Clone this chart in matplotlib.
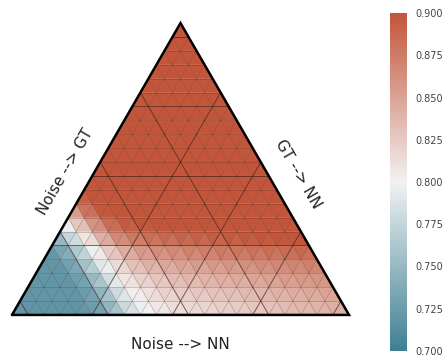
import numpy as np
import matplotlib
matplotlib.use("Agg")
import matplotlib.pyplot as plt
import seaborn as sns
from matplotlib.collections import PolyCollection

# ternary grid, scale 21; row h = GT index (0 at bottom), values for NN index n = 0..21-h
scale = 21
row_00 = [0.72, 0.72, 0.72, 0.72, 0.72, 0.725, 0.735, 0.77, 0.795, 0.80, 0.808,
          0.812, 0.815, 0.818, 0.82, 0.823, 0.826, 0.83, 0.833, 0.836, 0.84, 0.842]
row_01 = [0.72, 0.72, 0.72, 0.72, 0.72, 0.735, 0.77, 0.795, 0.805, 0.813, 0.818,
          0.82, 0.823, 0.826, 0.829, 0.832, 0.835, 0.838, 0.84, 0.843, 0.845]
row_02 = [0.72, 0.72, 0.72, 0.72, 0.735, 0.77, 0.80, 0.81, 0.82, 0.826,
          0.829, 0.832, 0.835, 0.838, 0.841, 0.844, 0.847, 0.85, 0.852, 0.855]
row_03 = [0.72, 0.72, 0.72, 0.74, 0.775, 0.805, 0.82, 0.83, 0.836, 0.84,
          0.843, 0.846, 0.849, 0.852, 0.855, 0.858, 0.86, 0.862, 0.865]
row_04 = [0.72, 0.72, 0.745, 0.785, 0.81, 0.83, 0.842, 0.85, 0.855, 0.858,
          0.861, 0.864, 0.867, 0.87, 0.872, 0.874, 0.876, 0.878]
row_05 = [0.725, 0.755, 0.79, 0.82, 0.845, 0.86, 0.868, 0.872, 0.876, 0.88,
          0.883, 0.886, 0.888, 0.89, 0.892, 0.894, 0.895]
row_06 = [0.77, 0.80, 0.835, 0.87, 0.885, 0.89, 0.895, 0.898, 0.90, 0.90,
          0.902, 0.904, 0.905, 0.906, 0.908, 0.91]
row_07 = [0.82, 0.86, 0.885, 0.90, 0.905, 0.905, 0.91, 0.91, 0.91, 0.91,
          0.912, 0.912, 0.915, 0.915, 0.915]
row_08 = [0.88, 0.90, 0.91, 0.91, 0.915, 0.915, 0.915, 0.92, 0.92, 0.92,
          0.92, 0.92, 0.92, 0.92]
row_09 = [0.90, 0.91, 0.92, 0.92, 0.92, 0.92, 0.92, 0.92, 0.925, 0.925,
          0.925, 0.925, 0.925]
row_10 = [0.91, 0.92, 0.92, 0.925, 0.925, 0.925, 0.925, 0.925, 0.93, 0.93,
          0.93, 0.93]
row_11 = [0.92, 0.925, 0.925, 0.93, 0.93, 0.93, 0.93, 0.93, 0.93, 0.93, 0.93]
row_12 = [0.925, 0.93, 0.93, 0.93, 0.93, 0.93, 0.93, 0.93, 0.93, 0.93]
row_13 = [0.93, 0.93, 0.93, 0.93, 0.93, 0.93, 0.93, 0.93, 0.93]
row_14 = [0.93, 0.93, 0.93, 0.93, 0.93, 0.93, 0.93, 0.93]
row_15 = [0.93, 0.93, 0.93, 0.93, 0.93, 0.93, 0.93]
row_16 = [0.93, 0.93, 0.93, 0.93, 0.93, 0.93]
row_17 = [0.93, 0.93, 0.93, 0.93, 0.93]
row_18 = [0.93, 0.93, 0.93, 0.93]
row_19 = [0.93, 0.93, 0.93]
row_20 = [0.93, 0.93]
row_21 = [0.93]
rows = [row_00, row_01, row_02, row_03, row_04, row_05, row_06, row_07,
        row_08, row_09, row_10, row_11, row_12, row_13, row_14, row_15,
        row_16, row_17, row_18, row_19, row_20, row_21]

cbar_ticks = [0.700, 0.725, 0.750, 0.775, 0.800, 0.825, 0.850, 0.875, 0.900]
bottom_label = "Noise --> NN"
left_label = "Noise --> GT"
right_label = "GT --> NN"

sns.set_style("white")
cmap = sns.diverging_palette(220, 20, as_cmap=True)

S3 = np.sqrt(3) / 2


def proj(n, h):
    return (n + h / 2.0, h * S3)


polys, vals = [], []
for h in range(scale):
    for n in range(scale - h):
        # upright triangle
        polys.append([proj(n, h), proj(n + 1, h), proj(n, h + 1)])
        vals.append((rows[h][n] + rows[h][n + 1] + rows[h + 1][n]) / 3)
        # upside-down triangle
        if n + h <= scale - 2:
            polys.append([proj(n + 1, h), proj(n, h + 1), proj(n + 1, h + 1)])
            vals.append((rows[h][n + 1] + rows[h + 1][n] + rows[h + 1][n + 1]) / 3)

fig = plt.figure(figsize=(4.46, 3.56), dpi=100)
ax = fig.add_axes([12 / 446, 40 / 356, 337 / 446, 294 / 356])
pc = PolyCollection(polys, array=np.array(vals), cmap=cmap, edgecolors="face",
                    linewidths=0.2)
pc.set_clim(0.7, 0.9)
ax.add_collection(pc)


def gridlines(step, lw, alpha):
    for k in range(step, scale, step):
        ax.plot(*zip(proj(0, k), proj(scale - k, k)), color="#3a2018", lw=lw, alpha=alpha)
        ax.plot(*zip(proj(k, 0), proj(k, scale - k)), color="#3a2018", lw=lw, alpha=alpha)
        ax.plot(*zip(proj(scale - k, 0), proj(0, scale - k)), color="#3a2018", lw=lw, alpha=alpha)


gridlines(1, 0.5, 0.3)
gridlines(5, 0.7, 0.55)

tri = [proj(0, 0), proj(scale, 0), proj(0, scale), proj(0, 0)]
ax.plot(*zip(*tri), color="black", lw=1.8, clip_on=False, solid_joinstyle="miter")

ax.set_xlim(0, scale)
ax.set_ylim(0, scale * S3)
ax.set_aspect("equal")
ax.axis("off")

fs = 11
ax.text(10.5, -1.85, bottom_label, ha="center", va="center", fontsize=fs, color="#222222")
ax.text(3.3, 8.9, left_label, ha="center", va="center", fontsize=fs,
        rotation=60, color="#222222")
ax.text(17.8, 8.8, right_label, ha="center", va="center", fontsize=fs,
        rotation=-60, color="#222222")

cax = fig.add_axes([390 / 446, 5 / 356, 17 / 446, 338 / 356])
sm = plt.cm.ScalarMappable(cmap=cmap, norm=plt.Normalize(0.7, 0.9))
cb = fig.colorbar(sm, cax=cax, ticks=cbar_ticks)
cb.outline.set_visible(False)
cb.ax.set_yticklabels(["%.3f" % t for t in cbar_ticks])
cb.ax.tick_params(labelsize=7, length=0, pad=6, colors="#444444")

fig.savefig("out.png", dpi=100)
